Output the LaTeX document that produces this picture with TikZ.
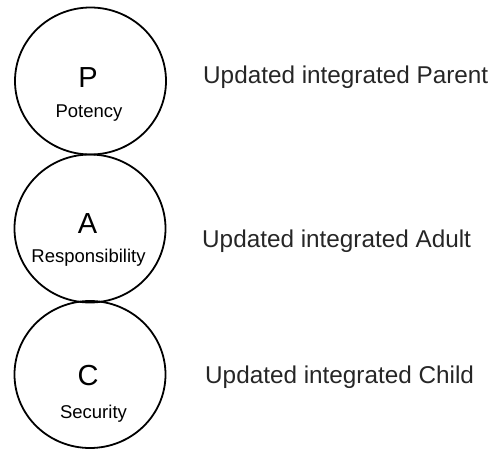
\documentclass[tikz,border=0pt]{standalone}
\usepackage{fontspec}
\setmainfont{Liberation Sans}
\usetikzlibrary{shapes.geometric}
\begin{document}
\begin{tikzpicture}[x=1pt,y=-1pt,
  ring/.style={draw=black,line width=1.8pt,ellipse,inner sep=0pt,minimum width=151pt,minimum height=147pt},
  big/.style={anchor=base,inner sep=0pt,font=\fontsize{29}{32}\selectfont},
  small/.style={anchor=base,inner sep=0pt,font=\fontsize{18.5}{21}\selectfont},
  side/.style={anchor=base west,inner sep=0pt,font=\fontsize{24.3}{28}\selectfont,text=black!85}]
\useasboundingbox (0,0) rectangle (496,450);
\node[ring] (cp) at (90.5,81) {};
\node[ring,minimum height=148pt] (ca) at (90,228.5) {};
\node[ring] (cc) at (90,374.5) {};
\node[big] (p) at (88,87) {P};
\node[small] (pl) at (89,117) {Potency};
\node[big] (a) at (87.5,233) {A};
\node[small] (al) at (88.5,262) {Responsibility};
\node[big] (c) at (88,385) {C};
\node[small] (cl) at (93.5,418) {Security};
\node[side] (tp) at (203,83) {Updated integrated Parent};
\node[side] (ta) at (202,247) {Updated integrated Adult};
\node[side] (tc) at (205,383) {Updated integrated Child};
\end{tikzpicture}
\end{document}
